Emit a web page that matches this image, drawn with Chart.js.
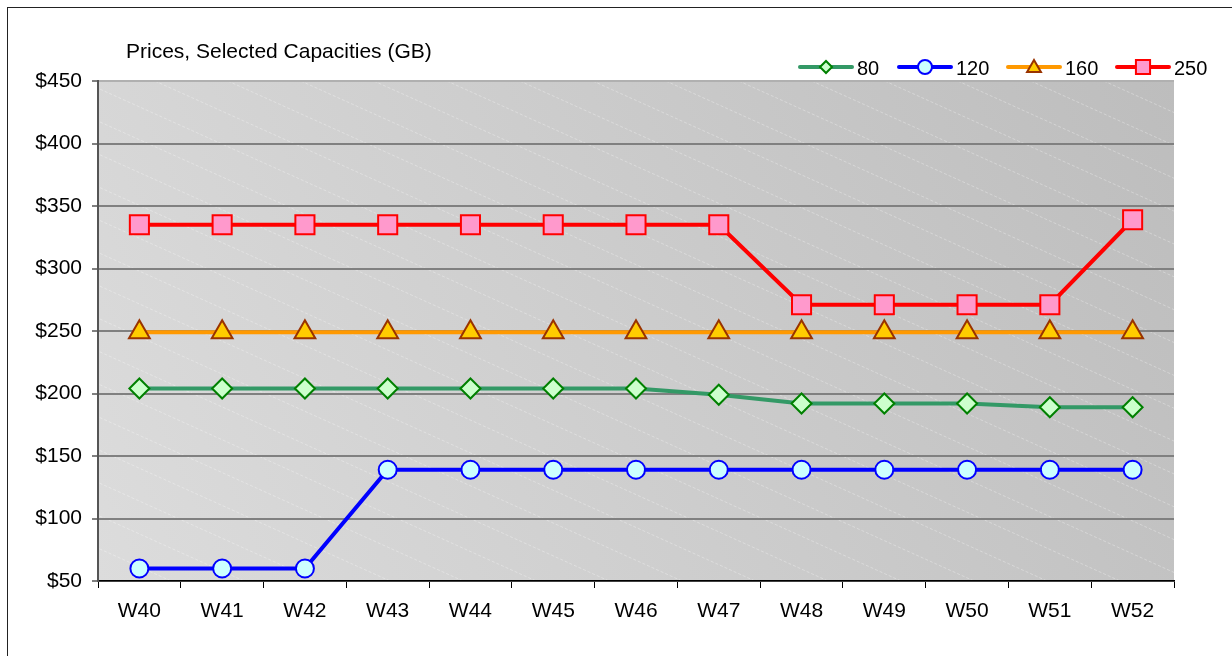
<!DOCTYPE html>
<html>
<head>
<meta charset="utf-8">
<title>Prices, Selected Capacities (GB)</title>
<script src="https://cdn.jsdelivr.net/npm/chart.js@4.4.1/dist/chart.umd.min.js"></script>
<style>
    html, body { margin: 0; padding: 0; background: #fff; overflow: hidden; }
    #wrap { position: relative; width: 1232px; height: 656px; }
    #frame {
        position: absolute; left: 7px; top: 7px;
        width: 1300px; height: 700px;
        border: 1px solid #222; box-sizing: border-box;
        pointer-events: none;
    }
    #priceChart { position: absolute; left: 0; top: 0; }
</style>
</head>
<body>
<div id="wrap">
    <canvas id="priceChart" width="1232" height="656"></canvas>
    <div id="frame"></div>
</div>
<script>
// ==========================================
// DATA
// ==========================================
var weeks = ['W40', 'W41', 'W42', 'W43', 'W44', 'W45', 'W46', 'W47', 'W48', 'W49', 'W50', 'W51', 'W52'];

var price80  = [204, 204, 204, 204, 204, 204, 204, 199, 192, 192, 192, 189, 189];
var price120 = [60, 60, 60, 139, 139, 139, 139, 139, 139, 139, 139, 139, 139];
var price160 = [249, 249, 249, 249, 249, 249, 249, 249, 249, 249, 249, 249, 249];
var price250 = [335, 335, 335, 335, 335, 335, 335, 335, 271, 271, 271, 271, 339];

var yMin = 50;
var yMax = 450;
var yStep = 50;

var chartTitle = 'Prices, Selected Capacities (GB)';

var FONT = '"Liberation Sans", Arial, sans-serif';

// ==========================================
// SERIES STYLES
// ==========================================
function series(label, values, line, marker, fill, stroke, radius) {
    return {
        label: label,
        data: values,
        borderColor: line,
        borderWidth: 4,
        tension: 0,
        pointStyle: marker,
        pointRadius: radius,
        pointHoverRadius: radius,
        pointBackgroundColor: fill,
        pointBorderColor: stroke,
        pointBorderWidth: 2
    };
}

var datasets = [
    series('80',  price80,  '#339966', 'rectRot',  '#ccffcc', '#008000', 10),
    series('120', price120, '#0000ff', 'circle',   '#ccffff', '#0000ff', 9),
    series('160', price160, '#ff9900', 'triangle', '#ffcc00', '#993300', 12),
    series('250', price250, '#ff0000', 'rect',     '#ff99cc', '#ff0000', 13.5)
];

// ==========================================
// PLOT BACKGROUND (gradient + diagonal hatch)
// ==========================================
var plotBackground = {
    id: 'plotBackground',
    beforeDraw: function(chart) {
        var ctx = chart.ctx;
        var a = chart.chartArea;
        ctx.save();
        var g = ctx.createLinearGradient(a.left, a.bottom, a.right, a.top);
        g.addColorStop(0, '#dcdcdc');
        g.addColorStop(1, '#bdbdbd');
        ctx.fillStyle = g;
        ctx.fillRect(a.left, a.top, a.right - a.left, a.bottom - a.top);

        ctx.beginPath();
        ctx.rect(a.left, a.top, a.right - a.left, a.bottom - a.top);
        ctx.clip();
        ctx.strokeStyle = 'rgba(255,255,255,0.3)';
        ctx.lineWidth = 1;
        ctx.setLineDash([3, 2]);
        var slope = 0.45;
        var gap = 73;
        var span = (a.bottom - a.top) / slope;
        for (var x = a.left - span; x < a.right + gap; x += gap) {
            ctx.beginPath();
            ctx.moveTo(x, a.top);
            ctx.lineTo(x + span + 40, a.bottom + 40 * slope);
            ctx.stroke();
        }
        ctx.restore();
    }
};

// ==========================================
// TITLE + LEGEND
// ==========================================
var legendPos = [798, 897, 1006, 1115];
var legendSizes = [6, 7, 8, 10];

var titleLegend = {
    id: 'titleLegend',
    afterDraw: function(chart) {
        var ctx = chart.ctx;
        ctx.save();
        ctx.fillStyle = '#000';
        ctx.font = '21px ' + FONT;
        ctx.textBaseline = 'alphabetic';
        ctx.textAlign = 'left';
        ctx.fillText(chartTitle, 126, 58);

        var y = 67;
        chart.data.datasets.forEach(function(ds, i) {
            var x0 = legendPos[i];
            ctx.strokeStyle = ds.borderColor;
            ctx.lineWidth = 4;
            ctx.lineCap = 'round';
            ctx.setLineDash([]);
            ctx.beginPath();
            ctx.moveTo(x0 + 2, y);
            ctx.lineTo(x0 + 54, y);
            ctx.stroke();

            ctx.fillStyle = ds.pointBackgroundColor;
            ctx.strokeStyle = ds.pointBorderColor;
            ctx.lineWidth = 2;
            Chart.helpers.drawPoint(ctx, {
                pointStyle: ds.pointStyle,
                radius: legendSizes[i],
                rotation: 0,
                borderWidth: 2
            }, x0 + 28, ds.pointStyle === 'triangle' ? y + 1 : y);

            ctx.fillStyle = '#000';
            ctx.font = '20px ' + FONT;
            ctx.textBaseline = 'middle';
            ctx.fillText(ds.label, x0 + 59, y + 2);
        });
        ctx.restore();
    }
};

// ==========================================
// CHART
// ==========================================
new Chart(document.getElementById('priceChart').getContext('2d'), {
    type: 'line',
    data: {
        labels: weeks,
        datasets: datasets
    },
    plugins: [plotBackground, titleLegend],
    options: {
        responsive: false,
        animation: false,
        events: [],
        layout: { padding: { left: 0, top: 81, right: 58, bottom: 30 } },
        plugins: {
            legend: { display: false },
            title: { display: false },
            tooltip: { enabled: false }
        },
        scales: {
            x: {
                offset: true,
                afterFit: function(s) { s.height = 45; },
                grid: {
                    offset: true,
                    drawOnChartArea: false,
                    color: '#000',
                    tickLength: 7,
                    tickWidth: 1
                },
                border: { display: true, color: '#000', width: 1.5 },
                ticks: {
                    color: '#000',
                    padding: 11,
                    maxRotation: 0,
                    autoSkip: false,
                    font: { family: FONT, size: 21 }
                }
            },
            y: {
                min: yMin,
                max: yMax,
                afterFit: function(s) { s.width = 98; },
                grid: {
                    color: function(c) { return c.tick && c.tick.value === yMax ? '#b0b0b0' : '#808080'; },
                    lineWidth: 2,
                    tickColor: '#000',
                    tickLength: 6,
                    tickWidth: 1
                },
                border: { display: true, color: '#555', width: 2 },
                ticks: {
                    stepSize: yStep,
                    color: '#000',
                    padding: 10,
                    font: { family: FONT, size: 21 },
                    callback: function(v) { return '$' + v; }
                }
            }
        }
    }
});
</script>
</body>
</html>
